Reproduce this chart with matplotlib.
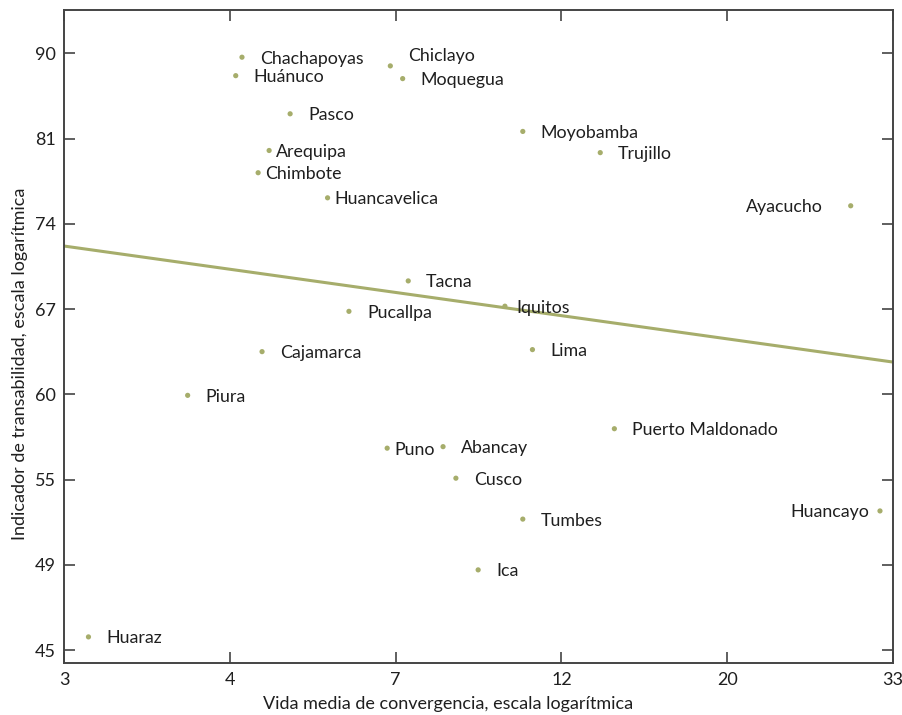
import numpy as np
import matplotlib
matplotlib.use("Agg")
import matplotlib.pyplot as plt
from matplotlib.ticker import FixedLocator, FixedFormatter, NullLocator

plt.rcParams['font.family'] = ['Lato', 'DejaVu Sans']

# City data: convergence half-life (x) and tradability indicator (y)
cities = ["Chachapoyas", "Huánuco", "Pasco", "Arequipa", "Chimbote", "Huancavelica",
          "Chiclayo", "Moquegua", "Tacna", "Pucallpa", "Cajamarca", "Moyobamba",
          "Trujillo", "Ayacucho", "Iquitos", "Lima", "Piura", "Puno", "Abancay",
          "Huaraz", "Puerto Maldonado", "Cusco", "Tumbes", "Ica", "Huancayo"]
half_life = [5.02, 4.93, 5.77, 5.43, 5.26, 6.43,
             7.71, 7.99, 8.12, 6.84, 5.32, 11.31,
             14.15, 29.2, 10.74, 11.63, 4.29, 7.64, 8.98,
             3.22, 14.74, 9.32, 11.31, 9.94, 31.78]
tradability = [89.6, 87.7, 83.9, 80.4, 78.35, 76.1,
               88.7, 87.4, 69.1, 66.7, 63.65, 82.2,
               80.2, 75.4, 67.1, 63.8, 60.5, 56.9, 57.0,
               45.7, 58.2, 54.95, 52.4, 49.4, 52.9]

# Log-log fit: ln(y) = intercept + slope * ln(x)
fit_intercept = 4.3378
fit_slope = -0.0562

x_tick_labels = ["3", "4", "7", "12", "20", "33"]
y_tick_labels = ["45", "49", "55", "60", "67", "74", "81", "90"]

# Label offsets in pixels (dx, dy, horizontal alignment)
label_offsets = {
    "Arequipa": (7, 0, "left"), "Chimbote": (7, 0, "left"),
    "Huancavelica": (7, 0, "left"), "Puno": (7, 0, "left"),
    "Iquitos": (11, 0, "left"), "Chiclayo": (18, 11, "left"),
    "Ayacucho": (-28, 0, "right"), "Huancayo": (-11, 0, "right"),
}

green = "#a6ad6b"
ink = "#1f1f1f"

fig = plt.figure(figsize=(9.03, 7.15), dpi=100)
ax = fig.add_axes([64 / 903, 1 - 663.3 / 715, 829 / 903, 653.3 / 715])
ax.set_xscale("log")
ax.set_yscale("log")
ax.set_xlim(3, 33)
ax.set_ylim(44.32, 94.65)

xt = np.geomspace(3, 33, len(x_tick_labels))
yt = np.geomspace(45, 90, len(y_tick_labels))
ax.xaxis.set_major_locator(FixedLocator(xt))
ax.xaxis.set_major_formatter(FixedFormatter(x_tick_labels))
ax.xaxis.set_minor_locator(NullLocator())
ax.yaxis.set_major_locator(FixedLocator(yt))
ax.yaxis.set_major_formatter(FixedFormatter(y_tick_labels))
ax.yaxis.set_minor_locator(NullLocator())

ax.tick_params(axis="both", which="major", direction="in", length=8, width=1.2,
               color="#444444", labelsize=13, labelcolor=ink,
               top=True, right=True, pad=6)
for s in ax.spines.values():
    s.set_color("#444444")
    s.set_linewidth(1.4)

# Fitted line
xl = np.geomspace(3, 33, 50)
ax.plot(xl, np.exp(fit_intercept + fit_slope * np.log(xl)), color=green, lw=2.2,
        zorder=2)

# Points
ax.scatter(half_life, tradability, s=14, color=green, edgecolors="none", zorder=3)

for name, xv, yv in zip(cities, half_life, tradability):
    dx, dy, ha = label_offsets.get(name, (18, 0, "left"))
    ax.annotate(name, (xv, yv), xytext=(dx * 0.72, dy * 0.72),
                textcoords="offset points", ha=ha, va="center_baseline",
                fontsize=12.8, color=ink)

ax.set_xlabel("Vida media de convergencia, escala logarítmica", fontsize=13,
              color=ink)
ax.set_ylabel("Indicador de transabilidad, escala logarítmica", fontsize=13,
              color=ink)
ax.xaxis.set_label_coords(0.463, -0.063, transform=ax.transAxes)
ax.xaxis.label.set_va("center")
ax.yaxis.set_label_coords(-0.0525, 0.458, transform=ax.transAxes)
ax.yaxis.label.set_va("center")

fig.savefig("out.png", dpi=100)
